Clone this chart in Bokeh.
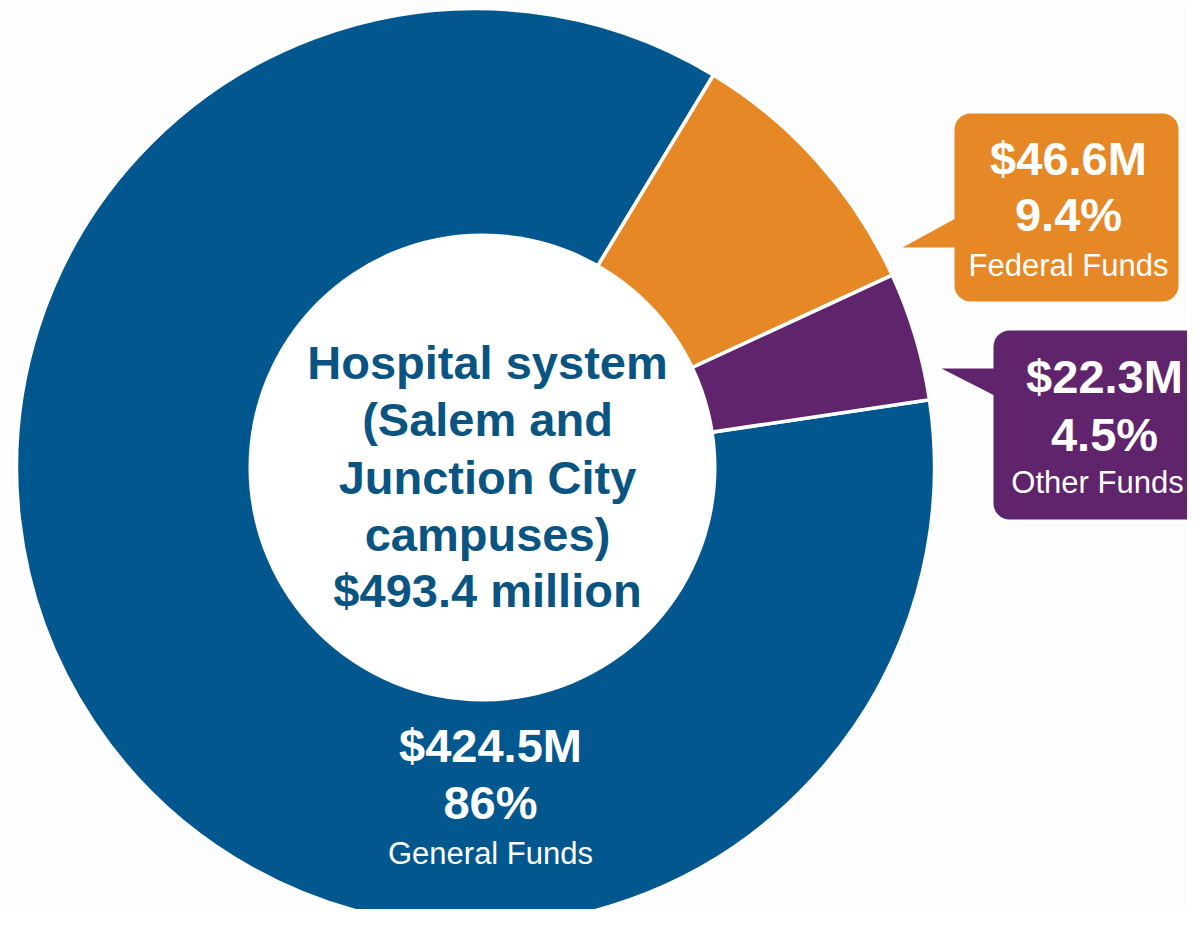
import math
from bokeh.plotting import figure
from bokeh.models import Range1d
from bokeh.core.properties import value
from bokeh.embed import file_html
from bokeh.resources import INLINE

# ---- data ----
categories = ["General Funds", "Federal Funds", "Other Funds"]
amounts = [424.5, 46.6, 22.3]
amount_labels = ["$424.5M", "$46.6M", "$22.3M"]
pct_labels = ["86%", "9.4%", "4.5%"]
colors = ["#02578F", "#E68826", "#5F246B"]
center_lines = ["Hospital system", "(Salem and", "Junction City", "campuses)", "$493.4 million"]

W, H = 1187, 909
FONT = "Liberation Sans"
BOLD_OFF = 18   # empirical baseline correction (px) for the bold 47px text
REG_OFF = 10    # for the regular 31px text

def Y(py):  # picture pixel y -> data y
    return 925 - py

p = figure(width=W, height=H, output_backend="svg", toolbar_location=None,
           x_range=Range1d(0, W), y_range=Range1d(925 - H, 925),
           min_border=0, outline_line_color=None)
p.axis.visible = False
p.grid.visible = False
p.background_fill_color = "#FDFDFD"
p.border_fill_color = "#FDFDFD"

# ---- donut ----
cx, cy, R = 475, 467, 459
rot = 81.5  # degrees clockwise from top where first slice starts
total = sum(amounts)
starts, ends = [], []
acc = rot
for a in amounts:
    span = a / total * 360.0
    starts.append(math.radians(90 - acc))
    ends.append(math.radians(90 - (acc + span)))
    acc += span

p.wedge(x=[cx] * 3, y=[Y(cy)] * 3, radius=R, start_angle=starts, end_angle=ends,
        direction="clock", fill_color=colors, line_color="white", line_width=3.5)
p.scatter(x=[482], y=[Y(467)], size=2 * 234, marker="circle",
          fill_color="white", line_color=None)

# ---- center text ----
base = [380, 437, 495, 552, 608]
p.text(x=[487] * len(center_lines), y=[Y(b - BOLD_OFF) for b in base], text=center_lines,
       text_font=value(FONT), text_font_style="bold", text_font_size="47px",
       text_color="#0A5482", text_align="center", text_baseline="alphabetic")

def label_block(x, b1, b2, b3, i, x3=None):
    p.text(x=[x, x], y=[Y(b1 - BOLD_OFF), Y(b2 - BOLD_OFF)], text=[amount_labels[i], pct_labels[i]],
           text_font=value(FONT), text_font_style="bold", text_font_size="47px",
           text_color="white", text_align="center", text_baseline="alphabetic")
    p.text(x=[x if x3 is None else x3], y=[Y(b3 - REG_OFF)], text=[categories[i]],
           text_font=value(FONT), text_font_size="31px",
           text_color="white", text_align="center", text_baseline="alphabetic")

# general funds label
label_block(490, 763, 820, 863, 0)

# ---- callouts ----
# federal (orange)
p.quad(left=[954], right=[1178], top=[Y(113)], bottom=[Y(301)],
       fill_color=colors[1], line_color=None, border_radius=16)
p.patch(x=[955, 902, 955], y=[Y(218), Y(247), Y(247)], fill_color=colors[1], line_color=None)
label_block(1068, 176, 232, 275, 1)

# other (purple)
p.quad(left=[993], right=[1225], top=[Y(330)], bottom=[Y(519)],
       fill_color=colors[2], line_color=None, border_radius=16)
p.patch(x=[994, 941, 994], y=[Y(368), Y(368), Y(395)], fill_color=colors[2], line_color=None)
label_block(1104, 394, 452, 492, 2, x3=1097)

open("out.html", "w").write(file_html(p, INLINE))
